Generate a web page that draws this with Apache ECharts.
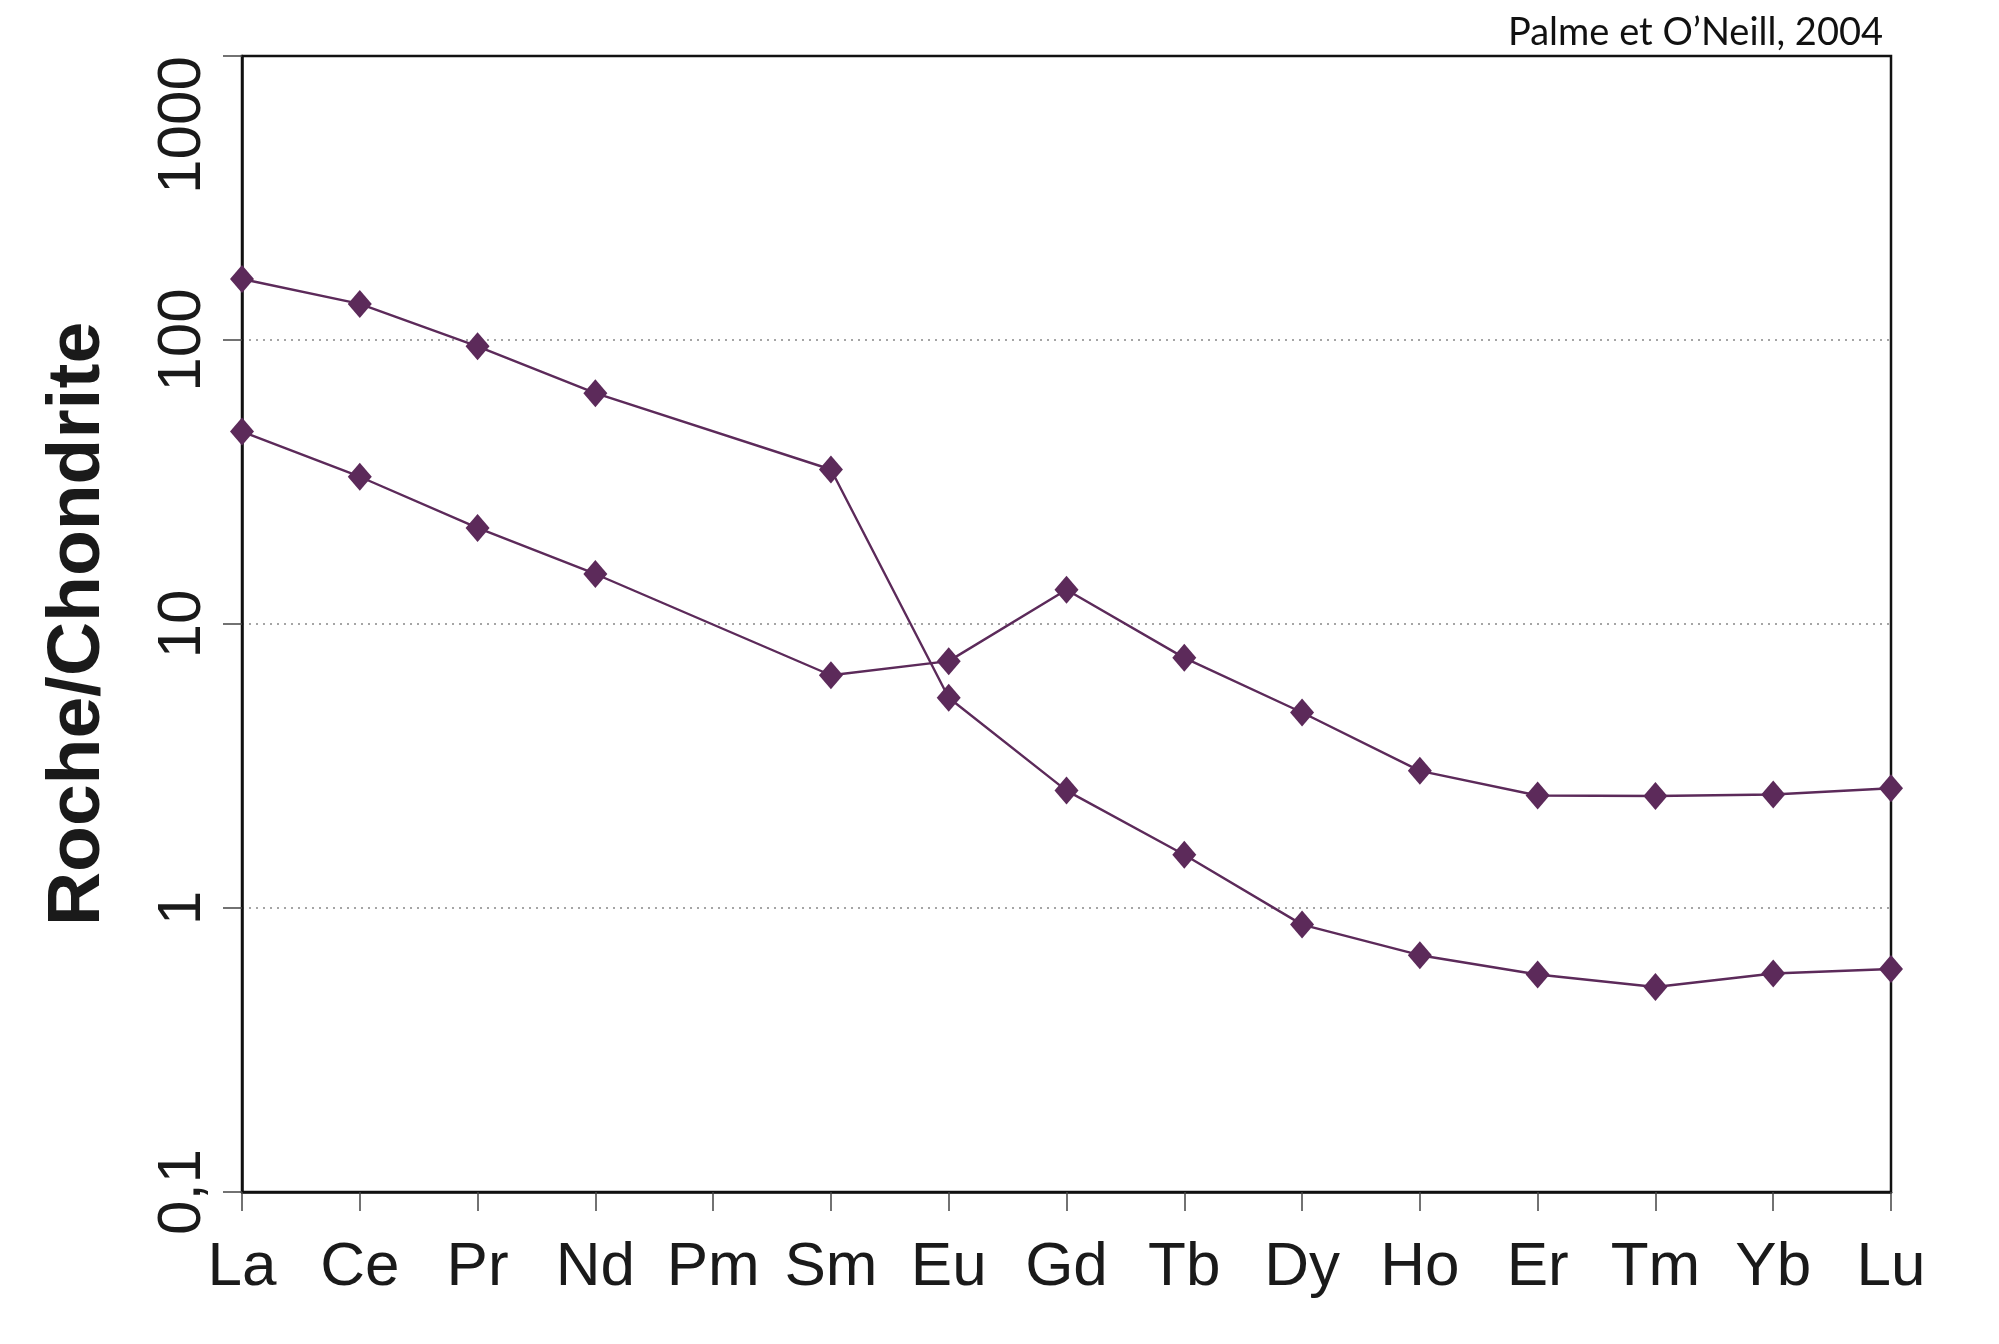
<!DOCTYPE html>
<html>
<head>
<meta charset="utf-8">
<script src="https://cdn.jsdelivr.net/npm/echarts@6/dist/echarts.min.js"></script>
<style>
html,body{margin:0;padding:0;background:#fff;}
#chart{width:1999px;height:1344px;}
</style>
</head>
<body>
<div id="chart"></div>
<script>
const categories = ['La','Ce','Pr','Nd','Pm','Sm','Eu','Gd','Tb','Dy','Ho','Er','Tm','Yb','Lu'];
const seriesA = [164, 134, 95, 65, null, 35, 5.5, 2.59, 1.54, 0.874, 0.682, 0.583, 0.527, 0.588, 0.61];
const seriesB = [47.6, 33.0, 21.8, 15.0, null, 6.6, 7.4, 13.2, 7.6, 4.88, 3.04, 2.49, 2.48, 2.51, 2.64];
const sourceText = 'Palme et O\u2019Neill, 2004';
const yAxisName = 'Roche/Chondrite';

const color = '#5c2a5a';
const chart = echarts.init(document.getElementById('chart'));
function lineSeries(data) {
  return {
    type: 'line',
    data: data,
    connectNulls: true,
    symbol: 'diamond',
    symbolSize: [24, 28],
    itemStyle: { color: color },
    lineStyle: { color: color, width: 2.4 },
    animation: false
  };
}
chart.setOption({
  animation: false,
  title: {
    text: sourceText,
    right: 111,
    top: 9,
    textStyle: { fontFamily: 'Lato', fontSize: 38, fontWeight: 'normal', color: '#111' }
  },
  grid: {
    left: 242, right: 108, top: 56, bottom: 152,
    show: true, borderColor: '#111', borderWidth: 2.5
  },
  xAxis: {
    type: 'category',
    data: categories,
    boundaryGap: false,
    axisLine: { lineStyle: { color: '#111', width: 2.5 } },
    axisTick: { show: true, interval: 0, length: 19, lineStyle: { color: '#444', width: 1.5 } },
    axisLabel: { interval: 0, fontFamily: 'Liberation Sans', fontSize: 62, color: '#1a1a1a', margin: 45 },
    splitLine: { show: false }
  },
  yAxis: {
    type: 'log',
    logBase: 10,
    min: 0.1,
    max: 1000,
    name: yAxisName,
    nameLocation: 'middle',
    nameGap: 126,
    nameRotate: 90,
    nameTextStyle: { fontFamily: 'Liberation Sans', fontSize: 75, fontWeight: 'bold', color: '#1a1a1a' },
    axisLine: { show: true, lineStyle: { color: '#111', width: 2.5 } },
    axisTick: { show: true, length: 19, lineStyle: { color: '#444', width: 1.5 } },
    axisLabel: {
      rotate: 90,
      fontFamily: 'Liberation Sans', fontSize: 62, color: '#1a1a1a', margin: 28,
      alignMaxLabel: 'right',
      formatter: function (v) { return v < 0.5 ? '0,1' : String(Math.round(v)); }
    },
    splitLine: { show: true, showMinLine: false, showMaxLine: false, lineStyle: { color: '#888', type: [2, 5], width: 1.5 } },
    minorTick: { show: false }
  },
  series: [lineSeries(seriesA), lineSeries(seriesB)]
});
</script>
</body>
</html>
